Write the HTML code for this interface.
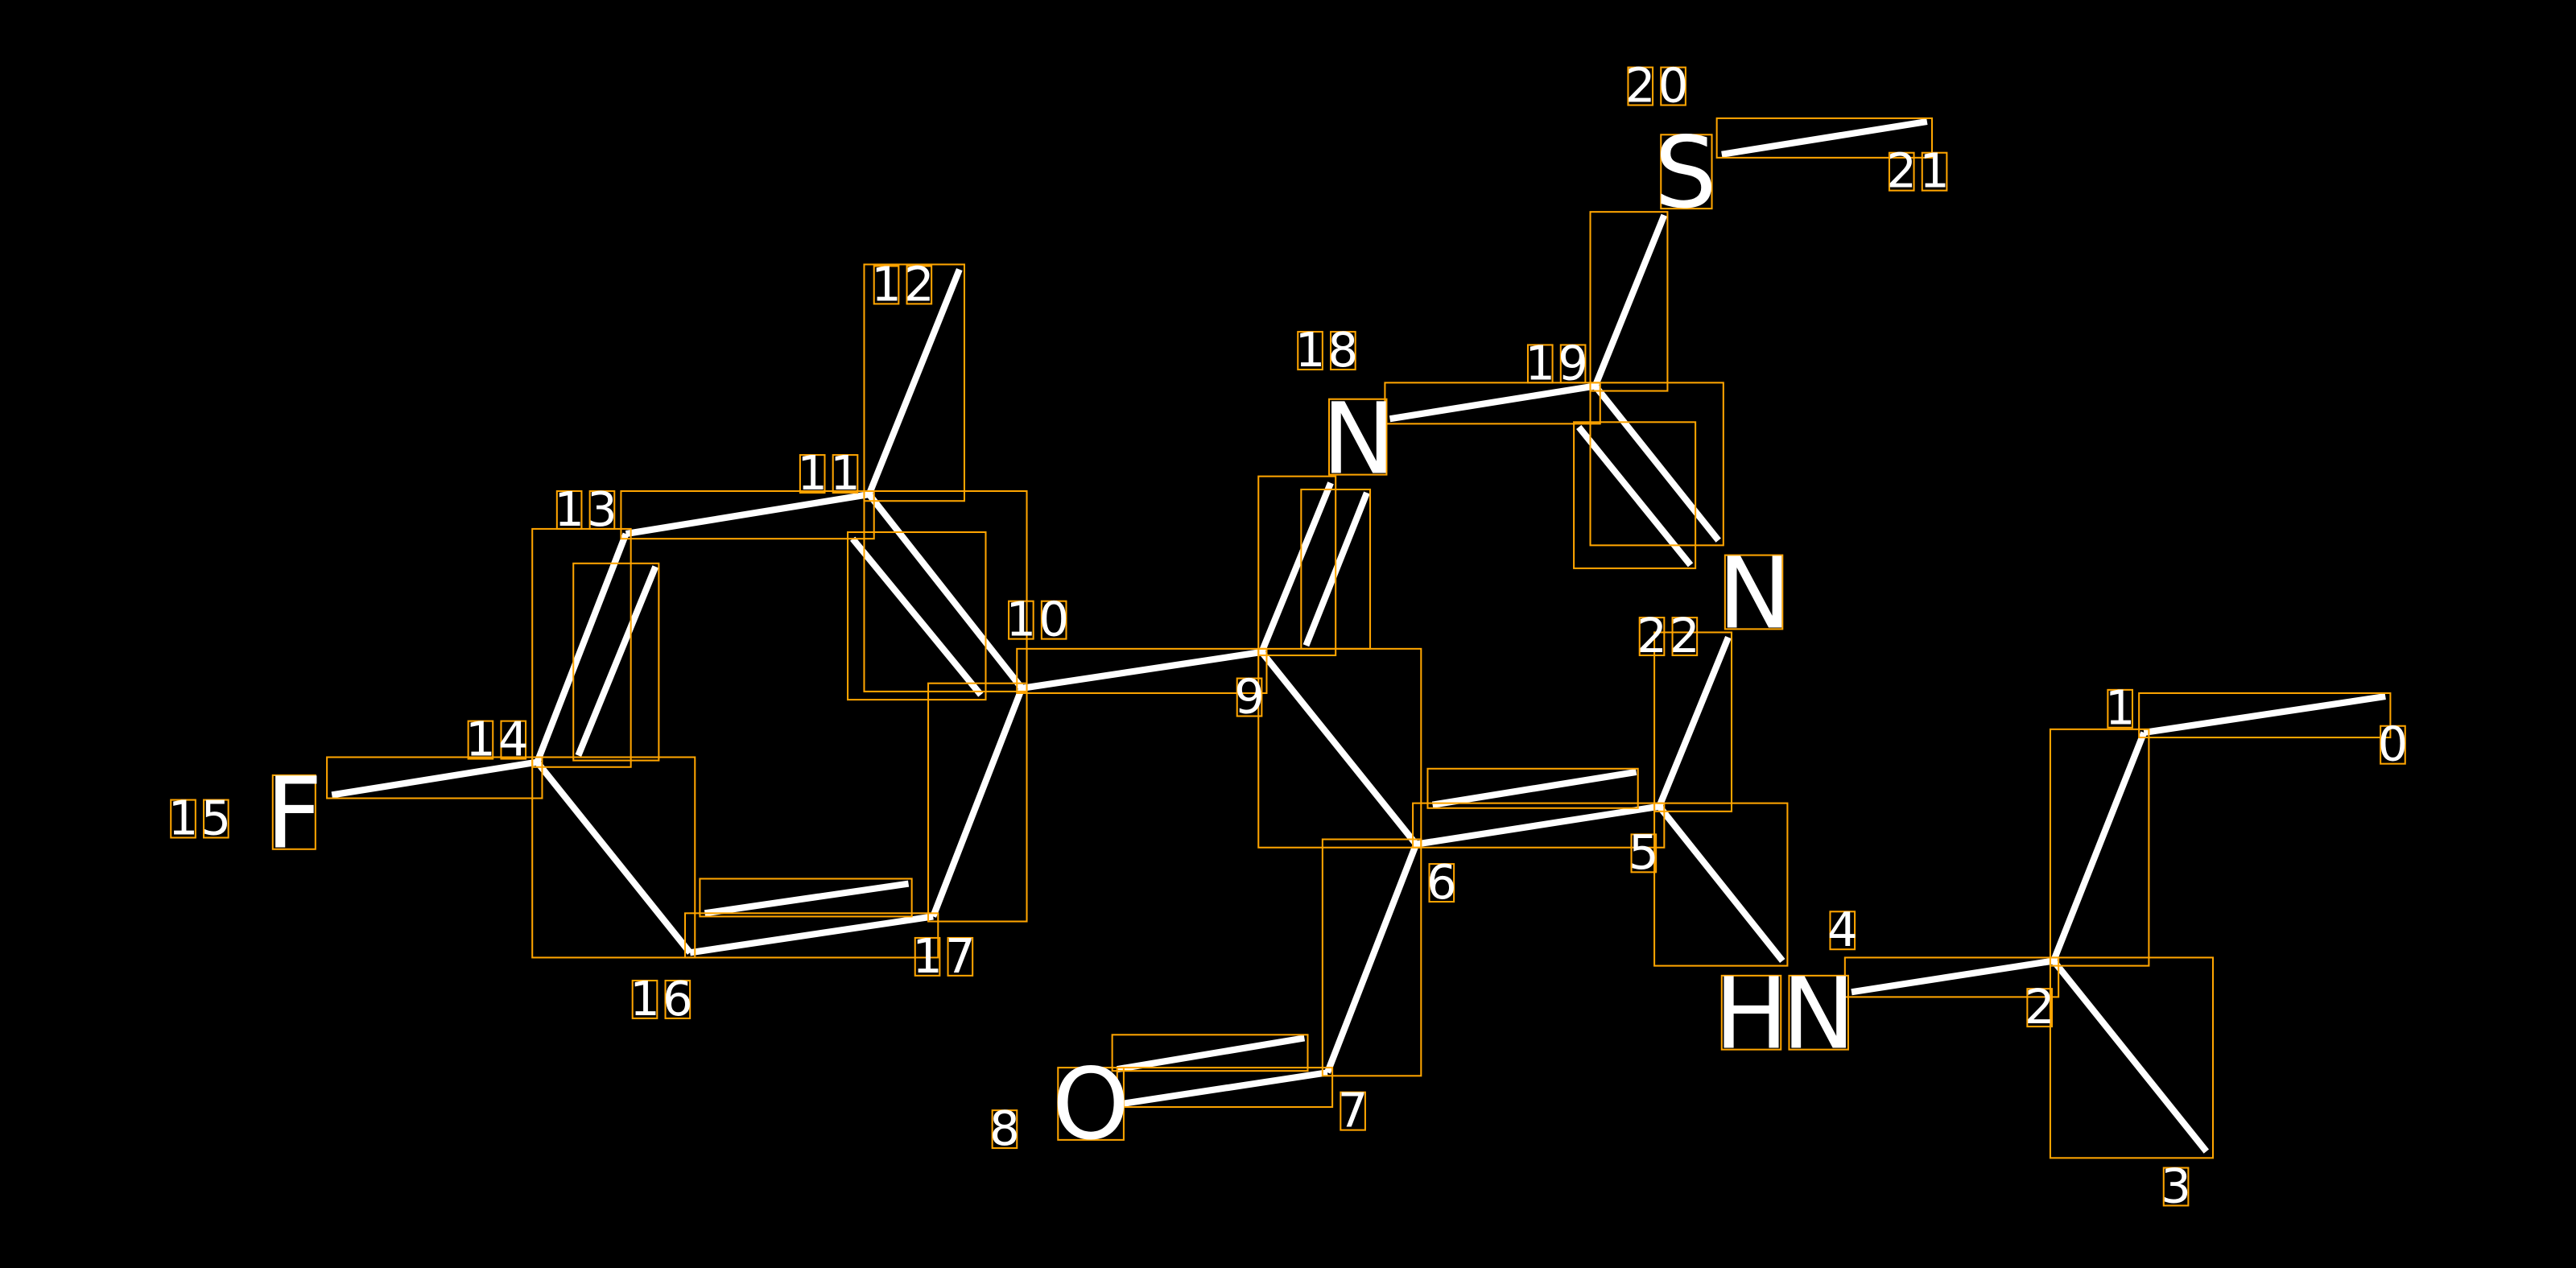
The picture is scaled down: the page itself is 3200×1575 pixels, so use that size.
<!DOCTYPE html>
<html><head><meta charset="utf-8"><style>
html,body{margin:0;padding:0;background:#000;}
svg{display:block}
.b{stroke:#fff;stroke-width:4;stroke-linecap:butt}
.r{fill:none;stroke:#FFA500;stroke-width:1}
.d{fill:#fff;font-family:"DejaVu Sans","Liberation Sans",sans-serif;font-size:29px;text-anchor:middle}
.a{fill:#fff;font-family:"DejaVu Sans","Liberation Sans",sans-serif;font-size:60px;text-anchor:middle}
</style></head><body>
<svg width="3200" height="1575" viewBox="0 0 1568 772" preserveAspectRatio="none">
<rect width="1568" height="772" fill="#000"/>
<g class="b">
<line x1="1305" y1="446" x2="1452" y2="424"/>
<line x1="1250" y1="585" x2="1305" y2="446"/>
<line x1="1250" y1="585" x2="1343" y2="701"/>
<line x1="1127" y1="604" x2="1250" y2="585"/>
<line x1="1010" y1="491" x2="1085" y2="585"/>
<line x1="1010" y1="491" x2="1052" y2="388"/>
<line x1="862" y1="514" x2="1010" y2="491"/>
<line x1="872" y1="490" x2="996" y2="470"/>
<line x1="808" y1="653" x2="862" y2="514"/>
<line x1="683" y1="672" x2="808" y2="653"/>
<line x1="680" y1="651" x2="794" y2="632"/>
<line x1="768" y1="397" x2="862" y2="514"/>
<line x1="622" y1="419" x2="768" y2="397"/>
<line x1="768" y1="397" x2="810" y2="294"/>
<line x1="795" y1="393" x2="832" y2="300"/>
<line x1="846" y1="255" x2="971" y2="235"/>
<line x1="971" y1="235" x2="1013" y2="131"/>
<line x1="971" y1="235" x2="1046" y2="329"/>
<line x1="961" y1="260" x2="1029" y2="344"/>
<line x1="1048" y1="94" x2="1173" y2="74"/>
<line x1="529" y1="301" x2="622" y2="419"/>
<line x1="519" y1="328" x2="597" y2="423"/>
<line x1="529" y1="301" x2="584" y2="164"/>
<line x1="381" y1="325" x2="529" y2="301"/>
<line x1="327" y1="464" x2="381" y2="325"/>
<line x1="352" y1="460" x2="399" y2="345"/>
<line x1="202" y1="484" x2="327" y2="464"/>
<line x1="327" y1="464" x2="420" y2="580"/>
<line x1="420" y1="580" x2="568" y2="558"/>
<line x1="429" y1="556" x2="553" y2="538"/>
<line x1="568" y1="558" x2="622" y2="419"/>
</g>
<g class="r">
<rect x="1302" y="422" width="153" height="27"/>
<rect x="1248" y="444" width="60" height="144"/>
<rect x="1248" y="583" width="99" height="122"/>
<rect x="1123" y="583" width="130" height="24"/>
<rect x="1007" y="489" width="81" height="99"/>
<rect x="1007" y="385" width="47" height="109"/>
<rect x="860" y="489" width="153" height="27"/>
<rect x="869" y="468" width="128" height="24"/>
<rect x="805" y="511" width="60" height="144"/>
<rect x="677" y="630" width="119" height="22"/>
<rect x="680" y="650" width="131" height="24"/>
<rect x="766" y="395" width="99" height="121"/>
<rect x="619" y="395" width="152" height="27"/>
<rect x="766" y="290" width="47" height="109"/>
<rect x="792" y="298" width="42" height="97"/>
<rect x="843" y="233" width="131" height="25"/>
<rect x="968" y="129" width="47" height="109"/>
<rect x="968" y="233" width="81" height="99"/>
<rect x="958" y="257" width="74" height="89"/>
<rect x="1045" y="72" width="131" height="24"/>
<rect x="526" y="299" width="99" height="122"/>
<rect x="516" y="324" width="84" height="102"/>
<rect x="526" y="161" width="61" height="144"/>
<rect x="378" y="299" width="154" height="29"/>
<rect x="324" y="322" width="60" height="145"/>
<rect x="349" y="343" width="52" height="120"/>
<rect x="199" y="461" width="131" height="25"/>
<rect x="324" y="461" width="99" height="122"/>
<rect x="417" y="556" width="154" height="27"/>
<rect x="426" y="535" width="129" height="23"/>
<rect x="565" y="416" width="60" height="145"/>
<rect x="1011" y="82" width="31" height="45"/>
<rect x="809" y="243" width="35" height="46"/>
<rect x="1050" y="338" width="35" height="45"/>
<rect x="166" y="472" width="26" height="45"/>
<rect x="644" y="650" width="40" height="44"/>
<rect x="1048" y="594" width="36" height="45"/>
<rect x="1089" y="594" width="36" height="45"/>
</g>
<g class="a">
<text x="1026" y="126">S</text>
<text x="827" y="288">N</text>
<text x="1068" y="382">N</text>
<text x="179" y="516">F</text>
<text x="664" y="693">O</text>
<text x="1066" y="638">H</text>
<text x="1107" y="638">N</text>
</g>
<g class="r">
<rect x="991" y="41" width="15" height="23"/><rect x="1011" y="41" width="15" height="23"/>
<rect x="1150" y="93" width="15" height="23"/><rect x="1170" y="93" width="15" height="23"/>
<rect x="532" y="162" width="15" height="23"/><rect x="552" y="162" width="15" height="23"/>
<rect x="790" y="202" width="15" height="23"/><rect x="810" y="202" width="15" height="23"/>
<rect x="930" y="210" width="15" height="23"/><rect x="950" y="210" width="15" height="23"/>
<rect x="487" y="277" width="15" height="23"/><rect x="507" y="277" width="15" height="23"/>
<rect x="339" y="299" width="15" height="23"/><rect x="359" y="299" width="15" height="23"/>
<rect x="614" y="366" width="15" height="23"/><rect x="634" y="366" width="15" height="23"/>
<rect x="753" y="413" width="15" height="23"/>
<rect x="285" y="439" width="15" height="23"/><rect x="305" y="439" width="15" height="23"/>
<rect x="104" y="487" width="15" height="23"/><rect x="124" y="487" width="15" height="23"/>
<rect x="1449" y="442" width="15" height="23"/>
<rect x="1283" y="420" width="15" height="23"/>
<rect x="998" y="376" width="15" height="23"/><rect x="1018" y="376" width="15" height="23"/>
<rect x="993" y="508" width="15" height="23"/>
<rect x="870" y="526" width="15" height="23"/>
<rect x="1114" y="555" width="15" height="23"/>
<rect x="1234" y="602" width="15" height="23"/>
<rect x="1317" y="711" width="15" height="23"/>
<rect x="816" y="665" width="15" height="23"/>
<rect x="604" y="676" width="15" height="23"/>
<rect x="385" y="597" width="15" height="23"/><rect x="405" y="597" width="15" height="23"/>
<rect x="557" y="571" width="15" height="23"/><rect x="577" y="571" width="15" height="23"/>
</g>
<g class="d">
<text x="998.5" y="62">2</text><text x="1018.5" y="62">0</text>
<text x="1157.5" y="114">2</text><text x="1177.5" y="114">1</text>
<text x="539.5" y="183">1</text><text x="559.5" y="183">2</text>
<text x="797.5" y="223">1</text><text x="817.5" y="223">8</text>
<text x="937.5" y="231">1</text><text x="957.5" y="231">9</text>
<text x="494.5" y="298">1</text><text x="514.5" y="298">1</text>
<text x="346.5" y="320">1</text><text x="366.5" y="320">3</text>
<text x="621.5" y="387">1</text><text x="641.5" y="387">0</text>
<text x="760.5" y="434">9</text>
<text x="292.5" y="460">1</text><text x="312.5" y="460">4</text>
<text x="111.5" y="508">1</text><text x="131.5" y="508">5</text>
<text x="1456.5" y="463">0</text>
<text x="1290.5" y="441">1</text>
<text x="1005.5" y="397">2</text><text x="1025.5" y="397">2</text>
<text x="1000.5" y="529">5</text>
<text x="877.5" y="547">6</text>
<text x="1121.5" y="576">4</text>
<text x="1241.5" y="623">2</text>
<text x="1324.5" y="732">3</text>
<text x="823.5" y="686">7</text>
<text x="611.5" y="697">8</text>
<text x="392.5" y="618">1</text><text x="412.5" y="618">6</text>
<text x="564.5" y="592">1</text><text x="584.5" y="592">7</text>
</g>
</svg>
</body></html>
